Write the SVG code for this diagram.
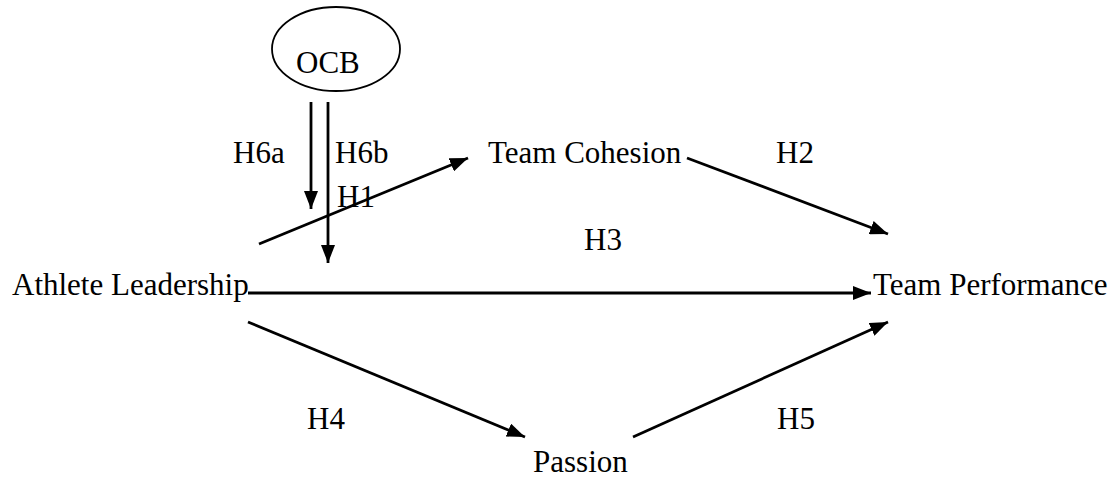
<svg xmlns="http://www.w3.org/2000/svg" width="1116" height="477" viewBox="0 0 1116 477">
<style>
  text { font-family: "Liberation Serif", "Times New Roman", serif; font-size: 31px; fill: #000; }
  .edge { stroke: #000; stroke-width: 2.8; fill: none; marker-end: url(#arrow); }
</style>
<defs>
  <marker id="arrow" markerUnits="userSpaceOnUse" markerWidth="18" markerHeight="14" refX="18" refY="7" orient="auto">
    <path d="M0,0 L18,7 L0,14 z" fill="#000"/>
  </marker>
</defs>
<rect width="1116" height="477" fill="#fff"/>
<g id="connectors">
  <line class="edge" x1="311" y1="102" x2="311" y2="209"/>
  <line class="edge" x1="328" y1="102" x2="328" y2="263"/>
  <line class="edge" x1="259" y1="244" x2="468" y2="158"/>
  <line class="edge" x1="687" y1="158" x2="888" y2="234"/>
  <line class="edge" x1="248" y1="293" x2="871" y2="293"/>
  <line class="edge" x1="248" y1="322" x2="525" y2="437"/>
  <line class="edge" x1="633" y1="437" x2="888" y2="322"/>
</g>
<g id="labels">
  <text x="233" y="163">H6a</text>
  <text x="335" y="163">H6b</text>
  <text x="337" y="207">H1</text>
  <text x="776" y="163">H2</text>
  <text x="584" y="250">H3</text>
  <text x="307" y="429">H4</text>
  <text x="777" y="429">H5</text>
</g>
<g id="node-ocb">
  <ellipse cx="336" cy="49" rx="64" ry="42" fill="none" stroke="#000" stroke-width="1.8"/>
  <text x="296" y="73">OCB</text>
</g>
<g id="node-athlete-leadership">
  <text x="12" y="295">Athlete Leadership</text>
</g>
<g id="node-team-cohesion">
  <text x="488" y="163">Team Cohesion</text>
</g>
<g id="node-team-performance">
  <text x="873" y="295">Team Performance</text>
</g>
<g id="node-passion">
  <text x="533" y="472">Passion</text>
</g>
</svg>
